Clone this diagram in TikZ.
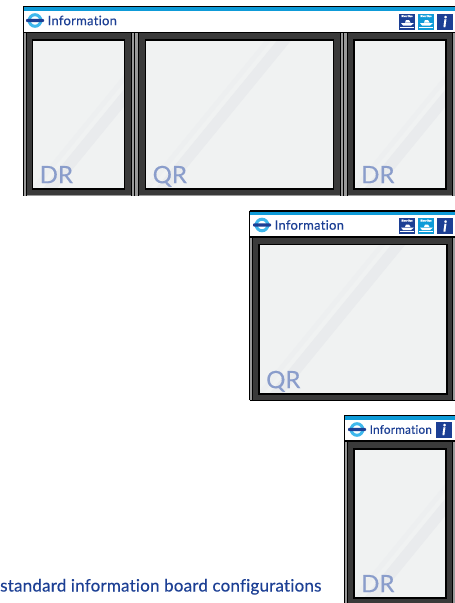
\documentclass[tikz,border=0pt]{standalone}
\usepackage{fontspec}
\setmainfont[Ligatures=NoCommon,FakeBold=0.25]{Lato}
\definecolor{tflblue}{HTML}{1C3F94}
\definecolor{tflcyan}{HTML}{0E9BD8}
\definecolor{ringcyan}{HTML}{3FB8EC}
\definecolor{framedark}{HTML}{3A3A3A}
\definecolor{sliver}{HTML}{9A9A9A}
\definecolor{glass}{HTML}{F0F2F2}
\definecolor{streakwide}{HTML}{E9EBED}
\definecolor{streakthin}{HTML}{EDEFF0}
\definecolor{labelblue}{HTML}{8A9DCB}
\tikzset{
  x=1pt,y=-1pt,
  headtext/.style={font=\fontsize{13}{13}\selectfont\addfontfeatures{LetterSpace=2},text=tflblue,anchor=west,inner sep=0pt},
  headsmall/.style={font=\fontsize{11.8}{13}\selectfont\addfontfeatures{LetterSpace=1.5},text=tflblue,anchor=west,inner sep=0pt},
  paneltext/.style={font=\fontsize{24}{25}\selectfont,text=labelblue,anchor=base west,inner sep=0pt},
  captiontext/.style={font=\fontsize{17}{18}\selectfont\addfontfeatures{LetterSpace=1.2},text=tflblue,anchor=base west,inner sep=0pt},
  boattext/.style={font=\fontsize{2.6}{3}\selectfont\bfseries,text=white,inner sep=0pt},
  infotext/.style={font=\fontsize{15}{15}\selectfont\bfseries\itshape,text=white,inner sep=0pt}
}
% #1 left, #2 right, #3 glass top, #4 glass bottom, #5 label, #6 node name
\newcommand{\glasspanel}[6]{
  \begin{scope}
    \clip (#1,#3) rectangle (#2,#4);
    \fill[glass] (#1,#3) rectangle (#2,#4);
    \fill[streakthin] (#1-2,#4) -- (#1+4,#4) -- ++(122,-149) -- ++(-6,0) -- cycle;
    \fill[streakwide] (#1+10,#4) -- (#1+24,#4) -- ++(122,-149) -- ++(-14,0) -- cycle;
  \end{scope}
  \draw[black,line width=1.5pt] (#1,#3) rectangle (#2,#4);
  \node[paneltext] (#6) at (#1+7,#4-5.8) {#5};
}
% #1 left x, #2 top line y, #3 separator y, #4 bottom y
\newcommand{\header}[4]{
  \fill[white] (#1,#2) rectangle (455,#3);
  \fill[tflcyan] (#1,#2+1) rectangle (455,#2+4.5);
  \draw[black,line width=1.2pt] (#1,#2+.5) -- (455,#2+.5);
  \draw[black,line width=1.6pt] (#1,#3) -- (455,#3);
  \draw[black,line width=1pt] (#1,#2) -- (#1,#4);
}
% #1 centre x, #2 centre y
\newcommand{\roundel}[2]{
  \draw[ringcyan,line width=3pt] (#1,#2) circle (5.8);
  \fill[tflblue,rounded corners=1pt] (#1-9,#2-1.7) rectangle (#1+9,#2+1.7);
}
% #1 left x, #2 top y, #3 colour
\newcommand{\boaticon}[3]{
  \fill[#3] (#1,#2) rectangle ++(16,16);
  \node[boattext] at (#1+8,#2+2.6) {River Bus};
  \fill[white] (#1+2,#2+9.5) -- (#1+15,#2+9.5) -- (#1+12,#2+12) -- (#1+4,#2+12) -- cycle;
  \fill[white] (#1+6,#2+9) -- (#1+7,#2+6.5) -- (#1+10,#2+6.5) -- (#1+11.5,#2+9) -- cycle;
  \draw[white,line width=.5pt] (#1+1,#2+13.5) -- (#1+15,#2+13.5);
}
\newcommand{\infoicon}[2]{
  \fill[tflblue] (#1,#2) rectangle ++(16,16);
  \node[infotext] at (#1+8,#2+8) {i};
}
\begin{document}
\begin{tikzpicture}
\useasboundingbox (0,0) rectangle (455,603);
\fill[white] (0,0) rectangle (455,603);

% ---- top board
\fill[sliver] (23,33) rectangle (455,196);
\fill[framedark] (26.5,33) rectangle (130.5,195);
\fill[framedark] (139,33) rectangle (340,195);
\fill[framedark] (347.5,33) rectangle (452,195);
\draw[black,line width=.8pt] (26.3,33) -- (26.3,196);
\draw[black,line width=.8pt] (131,33) -- (131,196);
\draw[black,line width=.8pt] (134,33) -- (134,196);
\draw[black,line width=.8pt] (138.5,33) -- (138.5,196);
\draw[black,line width=.8pt] (340.5,33) -- (340.5,196);
\draw[black,line width=.8pt] (343.5,33) -- (343.5,196);
\draw[black,line width=.8pt] (347.3,33) -- (347.3,196);
\draw[black,line width=.8pt] (452.5,33) -- (452.5,196);
\header{23}{6}{32.5}{196}
\glasspanel{32.5}{124.5}{40}{189}{DR}{drA}
\glasspanel{145.5}{333.5}{40}{189}{QR}{qrA}
\glasspanel{354}{446}{40}{189}{DR}{drB}
\roundel{35}{20.5}
\node[headtext] (infoA) at (47.5,20.5) {Information};
\boaticon{399}{13.5}{tflblue}
\boaticon{418}{13.5}{tflcyan}
\infoicon{437}{13.5}

% ---- middle board
\fill[sliver] (250,237) rectangle (455,400);
\fill[framedark] (252.5,237) rectangle (452,399.5);
\draw[black,line width=.8pt] (252.3,237) -- (252.3,400);
\draw[black,line width=.8pt] (452.5,237) -- (452.5,400);
\draw[black,line width=.8pt] (249.5,400.2) -- (455,400.2);
\header{249.5}{210.5}{236.8}{400}
\glasspanel{259}{447}{244.5}{394}{QR}{qrB}
\roundel{262}{225}
\node[headtext] (infoB) at (274.5,225) {Information};
\boaticon{399}{218}{tflblue}
\boaticon{418}{218}{tflcyan}
\infoicon{437}{218}

% ---- bottom board
\fill[sliver] (345,441) rectangle (455,603);
\fill[framedark] (347.5,441) rectangle (452,603);
\draw[black,line width=.8pt] (347.3,441) -- (347.3,603);
\draw[black,line width=.8pt] (452.5,441) -- (452.5,603);
\header{344.5}{415}{441}{603}
\glasspanel{354}{446}{449}{598}{DR}{drC}
\roundel{357}{429.5}
\node[headsmall] (infoC) at (369.5,429.5) {Information};
\infoicon{436}{421.5}

% ---- caption
\node[captiontext] (caption) at (0,591.5) {standard information board configurations};
\end{tikzpicture}
\end{document}
